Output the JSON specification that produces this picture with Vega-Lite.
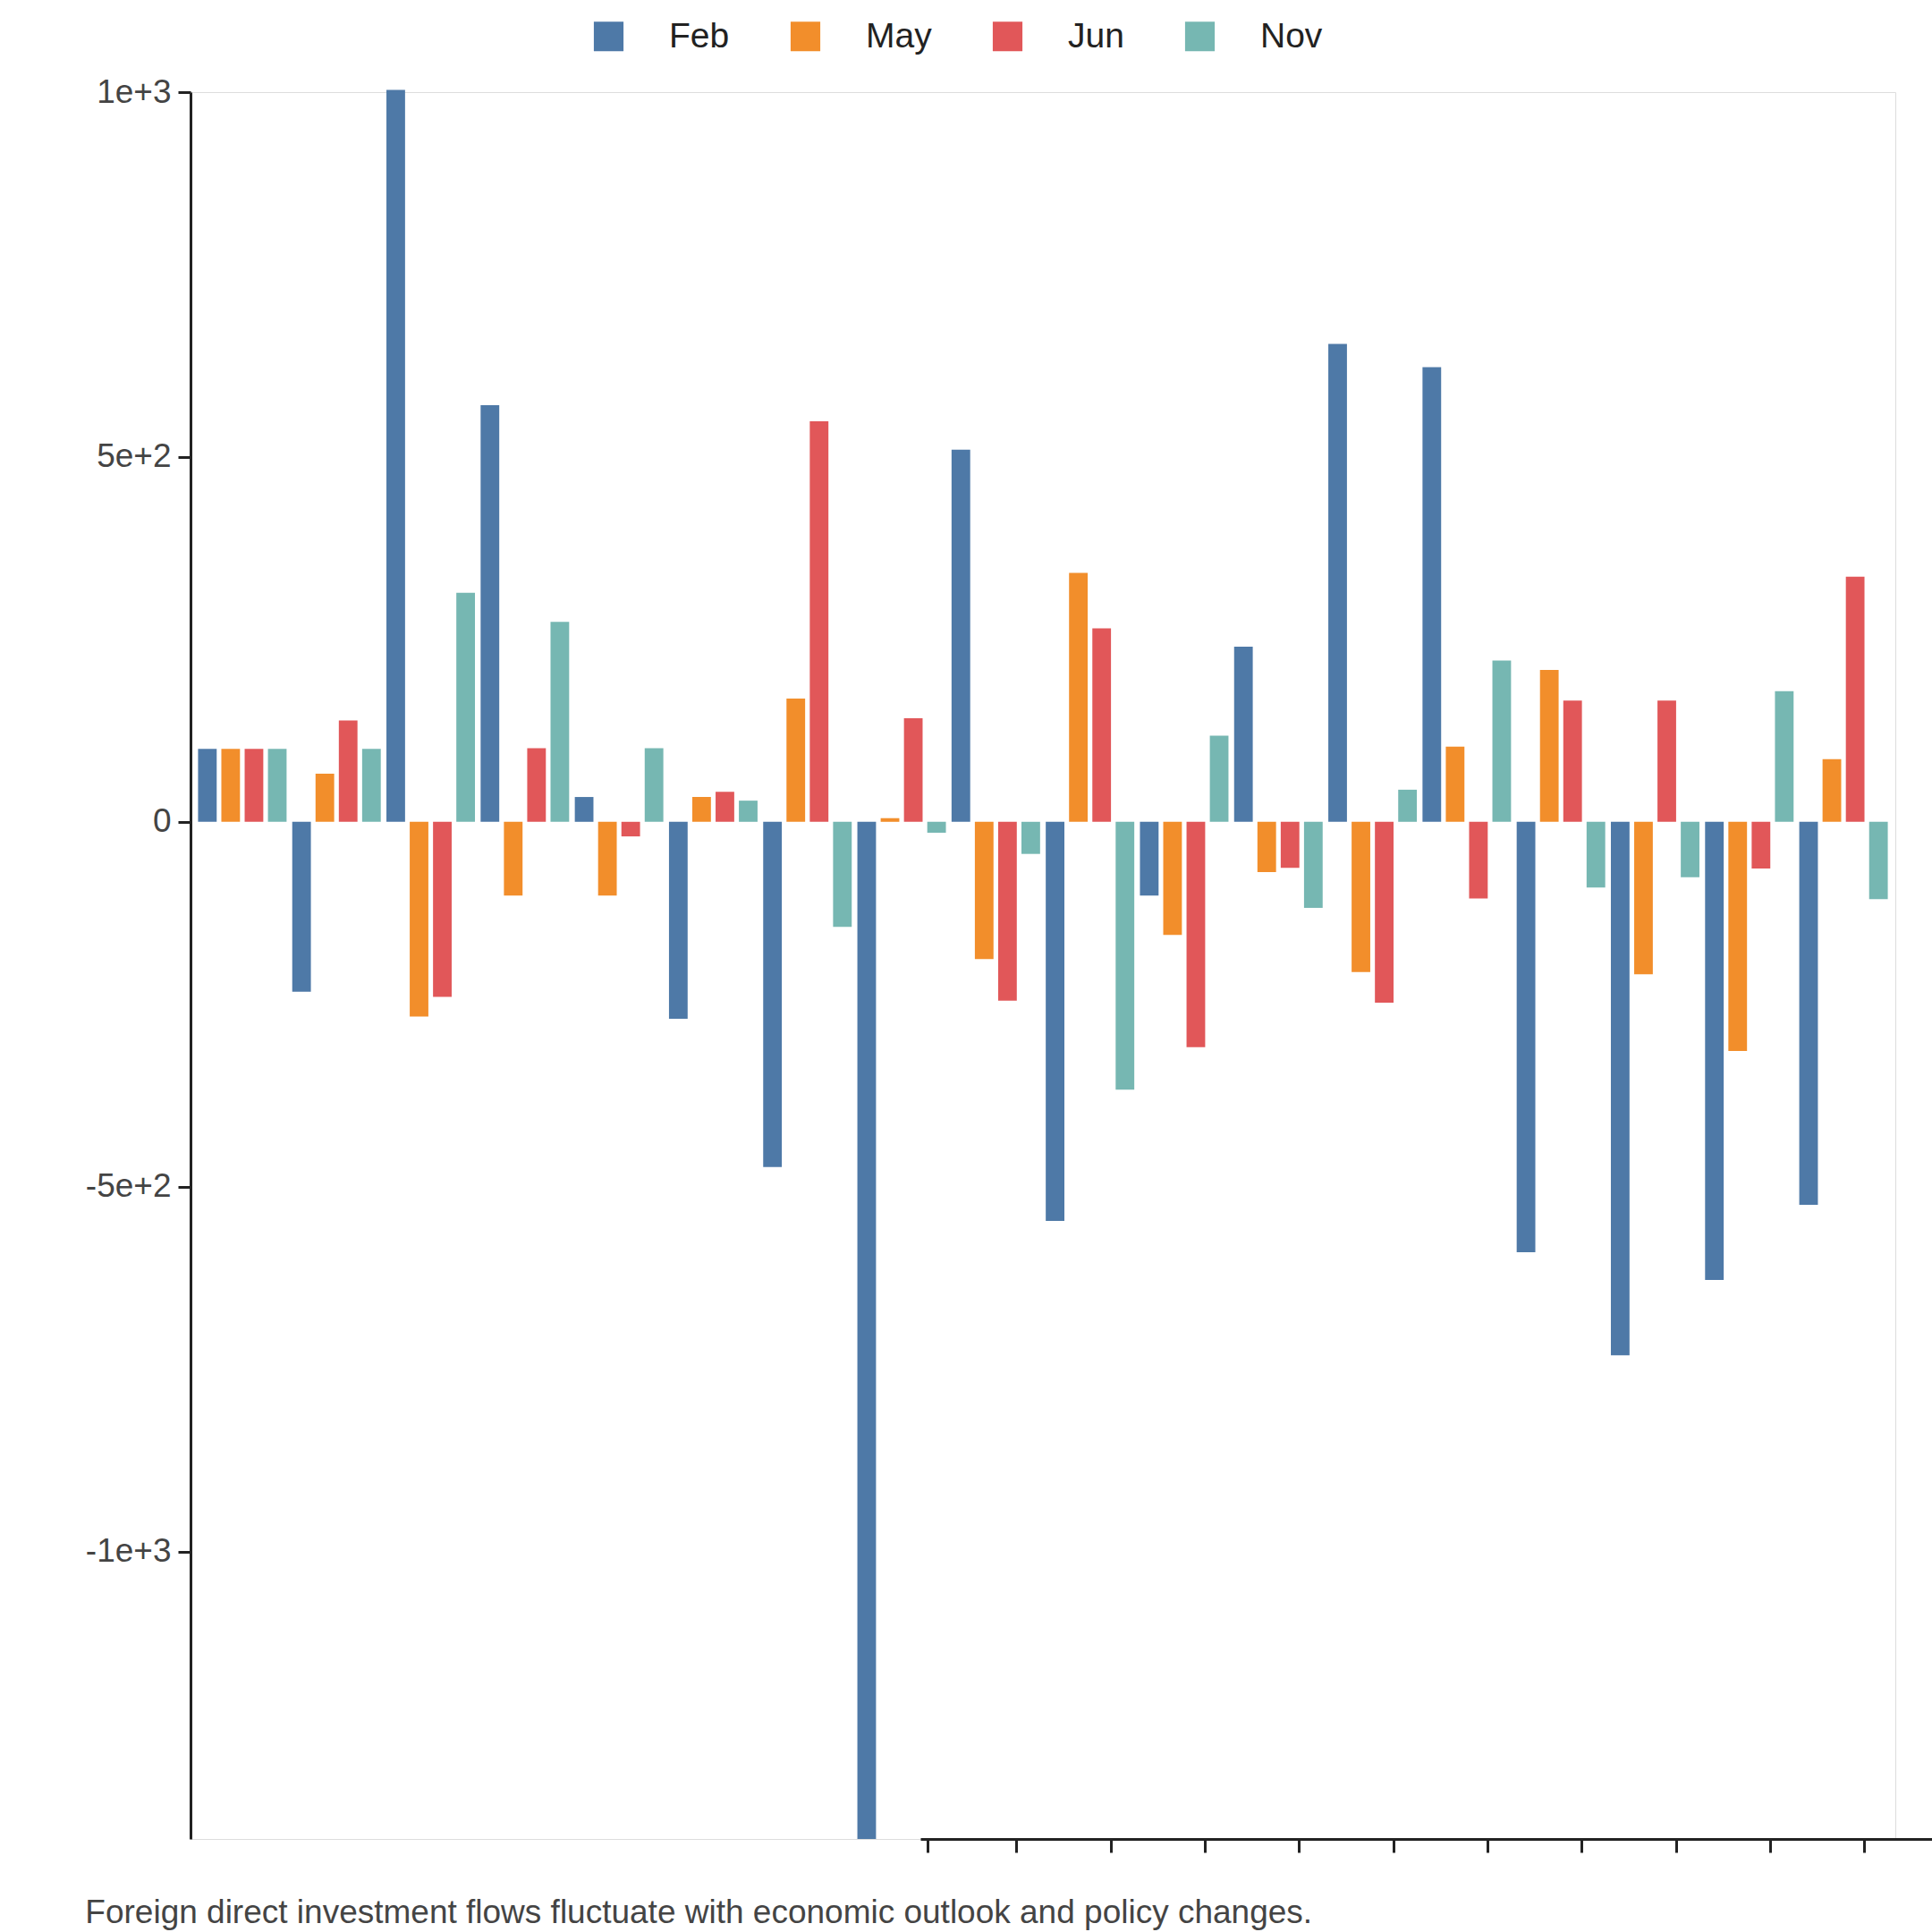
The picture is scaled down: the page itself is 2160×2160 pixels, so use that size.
{
  "$schema": "https://vega.github.io/schema/vega-lite/v6.json",
  "width": 1906,
  "height": 1953,
  "autosize": {"type": "none"},
  "padding": {"left": 213, "top": 103, "right": 41, "bottom": 104},
  "background": "white",
  "title": {
    "text": "Foreign direct investment flows fluctuate with economic outlook and policy changes.",
    "orient": "bottom", "anchor": "start", "offset": 48,
    "fontSize": 37, "fontWeight": "normal", "font": "Liberation Sans", "color": "#444"
  },
  "data": {
    "values": [
      {"g": 1, "m": "Feb", "v": 100}, {"g": 1, "m": "May", "v": 100}, {"g": 1, "m": "Jun", "v": 100}, {"g": 1, "m": "Nov", "v": 100},
      {"g": 2, "m": "Feb", "v": -233}, {"g": 2, "m": "May", "v": 66}, {"g": 2, "m": "Jun", "v": 139}, {"g": 2, "m": "Nov", "v": 100},
      {"g": 3, "m": "Feb", "v": 1003}, {"g": 3, "m": "May", "v": -267}, {"g": 3, "m": "Jun", "v": -240}, {"g": 3, "m": "Nov", "v": 314},
      {"g": 4, "m": "Feb", "v": 571}, {"g": 4, "m": "May", "v": -101}, {"g": 4, "m": "Jun", "v": 101}, {"g": 4, "m": "Nov", "v": 274},
      {"g": 5, "m": "Feb", "v": 34}, {"g": 5, "m": "May", "v": -101}, {"g": 5, "m": "Jun", "v": -20}, {"g": 5, "m": "Nov", "v": 101},
      {"g": 6, "m": "Feb", "v": -270}, {"g": 6, "m": "May", "v": 34}, {"g": 6, "m": "Jun", "v": 41}, {"g": 6, "m": "Nov", "v": 29},
      {"g": 7, "m": "Feb", "v": -473}, {"g": 7, "m": "May", "v": 169}, {"g": 7, "m": "Jun", "v": 549}, {"g": 7, "m": "Nov", "v": -144},
      {"g": 8, "m": "Feb", "v": -1394}, {"g": 8, "m": "May", "v": 5}, {"g": 8, "m": "Jun", "v": 142}, {"g": 8, "m": "Nov", "v": -15},
      {"g": 9, "m": "Feb", "v": 510}, {"g": 9, "m": "May", "v": -188}, {"g": 9, "m": "Jun", "v": -245}, {"g": 9, "m": "Nov", "v": -44},
      {"g": 10, "m": "Feb", "v": -547}, {"g": 10, "m": "May", "v": 341}, {"g": 10, "m": "Jun", "v": 265}, {"g": 10, "m": "Nov", "v": -367},
      {"g": 11, "m": "Feb", "v": -101}, {"g": 11, "m": "May", "v": -155}, {"g": 11, "m": "Jun", "v": -309}, {"g": 11, "m": "Nov", "v": 118},
      {"g": 12, "m": "Feb", "v": 240}, {"g": 12, "m": "May", "v": -69}, {"g": 12, "m": "Jun", "v": -63}, {"g": 12, "m": "Nov", "v": -118},
      {"g": 13, "m": "Feb", "v": 655}, {"g": 13, "m": "May", "v": -206}, {"g": 13, "m": "Jun", "v": -248}, {"g": 13, "m": "Nov", "v": 44},
      {"g": 14, "m": "Feb", "v": 623}, {"g": 14, "m": "May", "v": 103}, {"g": 14, "m": "Jun", "v": -105}, {"g": 14, "m": "Nov", "v": 221},
      {"g": 15, "m": "Feb", "v": -590}, {"g": 15, "m": "May", "v": 208}, {"g": 15, "m": "Jun", "v": 166}, {"g": 15, "m": "Nov", "v": -90},
      {"g": 16, "m": "Feb", "v": -731}, {"g": 16, "m": "May", "v": -209}, {"g": 16, "m": "Jun", "v": 166}, {"g": 16, "m": "Nov", "v": -76},
      {"g": 17, "m": "Feb", "v": -628}, {"g": 17, "m": "May", "v": -314}, {"g": 17, "m": "Jun", "v": -64}, {"g": 17, "m": "Nov", "v": 179},
      {"g": 18, "m": "Feb", "v": -525}, {"g": 18, "m": "May", "v": 86}, {"g": 18, "m": "Jun", "v": 336}, {"g": 18, "m": "Nov", "v": -106}
    ]
  },
  "mark": {"type": "bar"},
  "encoding": {
    "x": {
      "field": "g", "type": "ordinal",
      "scale": {"paddingInner": 0.06, "paddingOuter": 0.08},
      "axis": {
        "title": null, "labels": false, "position": 816, "tickBand": "extent",
        "domainColor": "#222", "domainWidth": 3, "tickColor": "#222", "tickWidth": 3, "tickSize": 15
      }
    },
    "xOffset": {"field": "m", "sort": ["Feb", "May", "Jun", "Nov"], "scale": {"paddingInner": 0.2}},
    "y": {
      "field": "v", "type": "quantitative",
      "scale": {"domain": [-1394, 1000], "nice": false},
      "axis": {
        "title": null, "grid": false, "values": [-1000, -500, 0, 500, 1000],
        "format": ",", "labelExpr": "replace(datum.label, '−', '-')",
        "labelFontSize": 37, "labelFont": "Liberation Sans", "labelColor": "#444", "labelPadding": 8,
        "domainColor": "#222", "domainWidth": 3, "tickColor": "#222", "tickWidth": 3, "tickSize": 14
      }
    },
    "color": {
      "field": "m", "type": "nominal", "sort": ["Feb", "May", "Jun", "Nov"],
      "scale": {"domain": ["Feb", "May", "Jun", "Nov"], "range": ["#4e79a7", "#f28e2b", "#e15759", "#76b7b2"]},
      "legend": {
        "title": null, "orient": "none", "direction": "horizontal",
        "legendX": 448, "legendY": -82,
        "symbolType": "square", "symbolSize": 1100, "symbolStrokeWidth": 0, "symbolOpacity": 1,
        "labelFontSize": 39, "labelFont": "Liberation Sans", "labelColor": "#222",
        "labelOffset": 48, "columnPadding": 65
      }
    }
  }
}
